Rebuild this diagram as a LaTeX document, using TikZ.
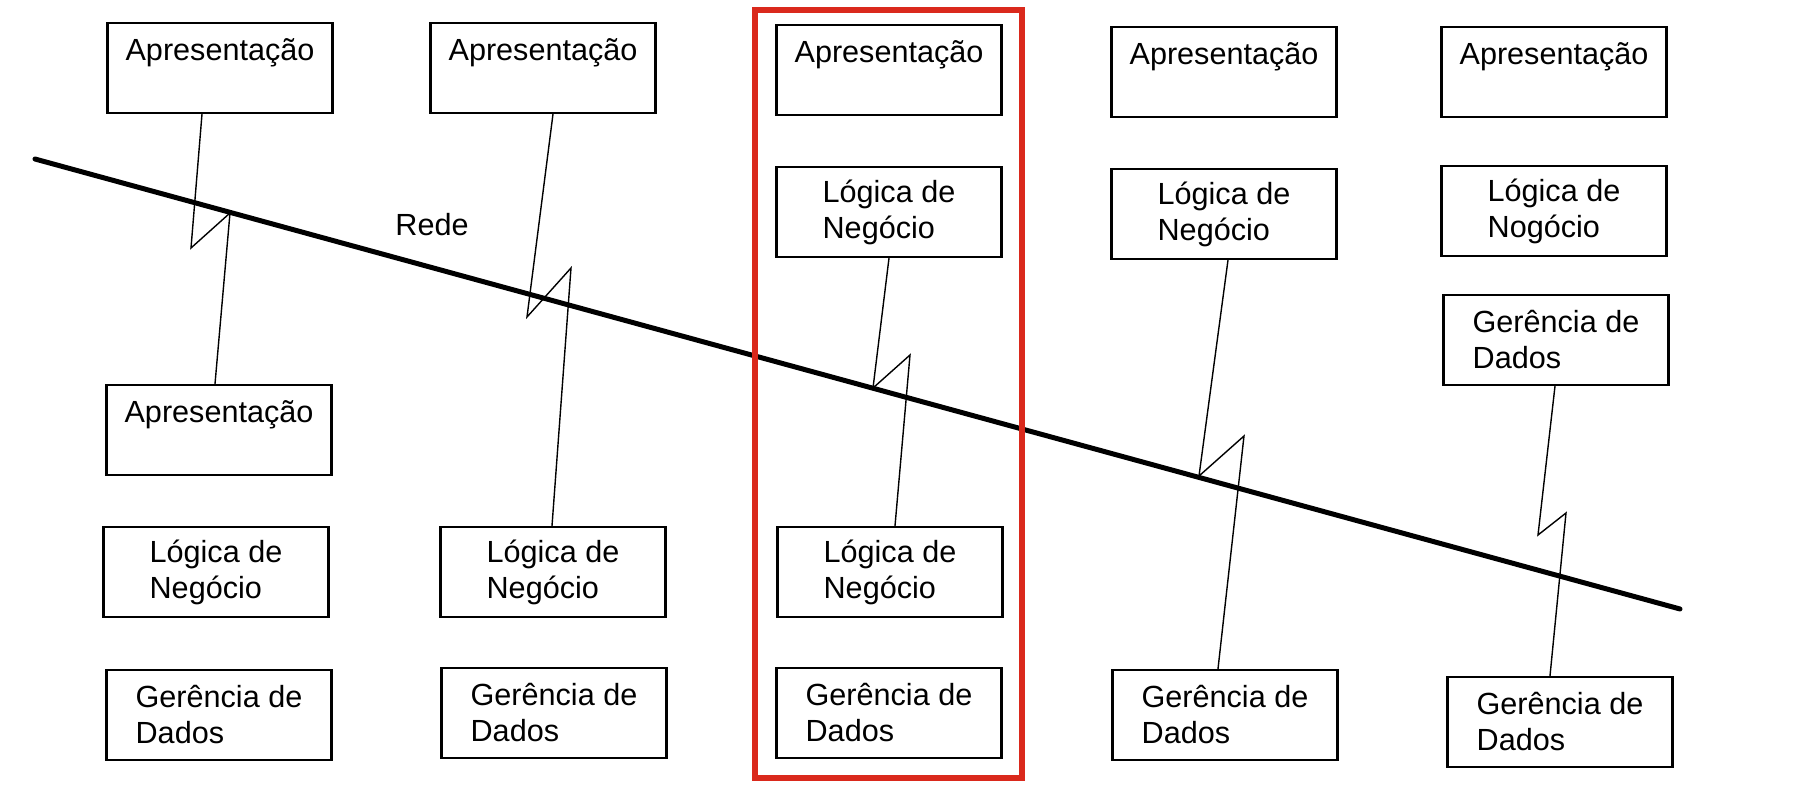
\documentclass[tikz,border=0pt]{standalone}
\usepackage{fontspec}
\setmainfont{Liberation Sans}
\definecolor{destaque}{RGB}{218,41,28}
\tikzset{
  camada/.style={draw,line width=1.1pt,minimum width=112.5pt,minimum height=45pt,
    inner sep=0pt,align=left,font=\fontsize{15.3}{18}\selectfont},
  ligacao/.style={line width=0.7pt},
}
\begin{document}
\begin{tikzpicture}[x=0.5pt,y=-0.5pt]
  \useasboundingbox (0,0) rectangle (1806,797);
  % rede
  \coordinate (redeA) at (35,159);
  \coordinate (redeB) at (1680,609);
  \draw [line width=2.5pt,line cap=round] (redeA) -- (redeB);
  \node [font=\fontsize{15.3}{18}\selectfont] (rede) at (432,225) {Rede};
  % coluna 1
  \node [camada] (ap1) at (220,68) {Apresentação\\\mbox{}};
  \node [camada] (ap1b) at (219,430) {Apresentação\\\mbox{}};
  \node [camada] (lg1) at (216,572) {Lógica de\\Negócio};
  \node [camada] (gd1) at (219,715) {Gerência de\\Dados};
  % coluna 2
  \node [camada] (ap2) at (543,68) {Apresentação\\\mbox{}};
  \node [camada] (lg2) at (553,572) {Lógica de\\Negócio};
  \node [camada] (gd2) at (554,713) {Gerência de\\Dados};
  % coluna 3
  \node [camada] (ap3) at (889,70) {Apresentação\\\mbox{}};
  \node [camada] (lg3) at (889,212) {Lógica de\\Negócio};
  \node [camada] (lg3b) at (890,572) {Lógica de\\Negócio};
  \node [camada] (gd3) at (889,713) {Gerência de\\Dados};
  % coluna 4
  \node [camada] (ap4) at (1224,72) {Apresentação\\\mbox{}};
  \node [camada] (lg4) at (1224,214) {Lógica de\\Negócio};
  \node [camada] (gd4) at (1225,715) {Gerência de\\Dados};
  % coluna 5
  \node [camada] (ap5) at (1554,72) {Apresentação\\\mbox{}};
  \node [camada] (lg5) at (1554,211) {Lógica de\\Nogócio};
  \node [camada] (gd5) at (1556,340) {Gerência de\\Dados};
  \node [camada] (gd5b) at (1560,722) {Gerência de\\Dados};
  % ligacoes pela rede
  \draw [ligacao] ([xshift=-9pt]ap1.south) -- (191,248) -- (230,213) -- ([xshift=-2pt]ap1b.north);
  \draw [ligacao] ([xshift=5pt]ap2.south) -- (527,317) -- (571,268) -- ([xshift=-0.5pt]lg2.north);
  \draw [ligacao] (lg3.south) -- (873,388) -- (910,355) -- ([xshift=2.5pt]lg3b.north);
  \draw [ligacao] ([xshift=2pt]lg4.south) -- (1199,476) -- (1244,436) -- ([xshift=-3.5pt]gd4.north);
  \draw [ligacao] ([xshift=-0.5pt]gd5.south) -- (1538,535) -- (1566,513) -- ([xshift=-5pt]gd5b.north);
  % destaque
  \draw [destaque,line width=3pt] (755,10) rectangle (1022,778);
\end{tikzpicture}
\end{document}
